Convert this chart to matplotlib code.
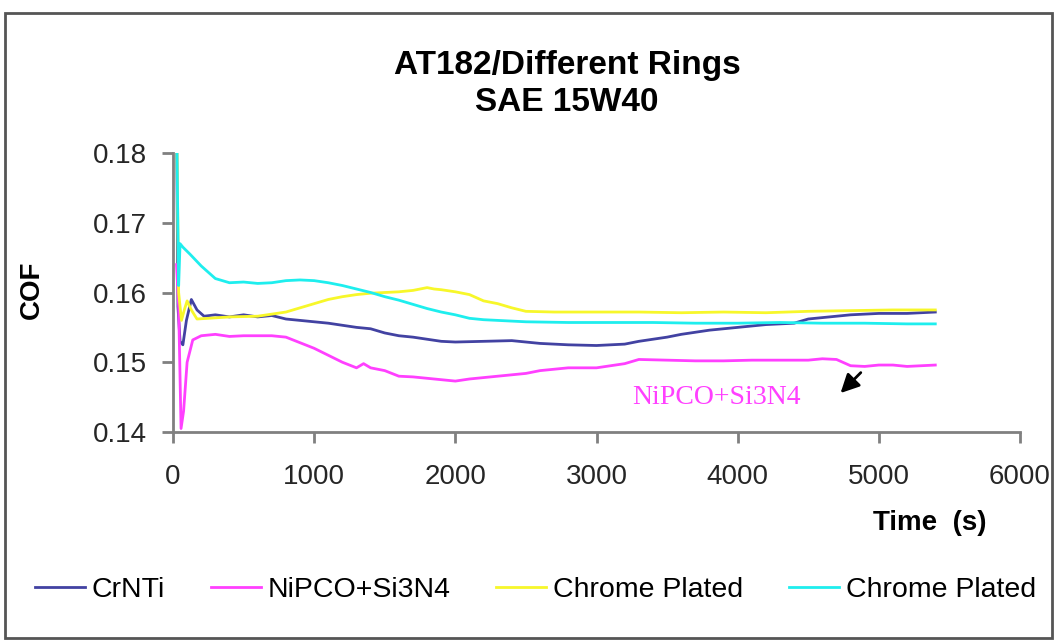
import numpy as np
import matplotlib
matplotlib.use('Agg')
import matplotlib.pyplot as plt
from matplotlib.patches import Rectangle

plt.rcParams['font.family'] = ['Liberation Sans', 'DejaVu Sans']

# CrNTi (navy)
t_crnti = [25, 35, 50, 70, 95, 130, 170, 220, 300, 400, 500, 600, 700, 800, 900,
           1000, 1100, 1200, 1300, 1400, 1500, 1600, 1700, 1800, 1900, 2000, 2200,
           2400, 2600, 2800, 3000, 3200, 3300, 3400, 3500, 3600, 3700, 3800, 3900,
           4000, 4200, 4400, 4500, 4600, 4800, 5000, 5200, 5400]
cof_crnti = [0.185, 0.158, 0.153, 0.1525, 0.156, 0.159, 0.1575, 0.1566, 0.1568, 0.1565,
             0.1568, 0.1565, 0.1567, 0.1562, 0.156, 0.1558, 0.1556, 0.1553, 0.155, 0.1548,
             0.1542, 0.1538, 0.1536, 0.1533, 0.153, 0.1529, 0.153, 0.1531, 0.1527, 0.1525,
             0.1524, 0.1526, 0.153, 0.1533, 0.1536, 0.154, 0.1543, 0.1546, 0.1548, 0.155,
             0.1554, 0.1556, 0.1562, 0.1564, 0.1568, 0.157, 0.157, 0.1572]

# NiPCO+Si3N4 (magenta)
t_nipco = [25, 40, 57, 75, 100, 140, 200, 300, 400, 500, 600, 700, 800, 900, 1000,
           1100, 1200, 1300, 1350, 1400, 1500, 1600, 1700, 1800, 1900, 2000, 2100,
           2200, 2300, 2400, 2500, 2600, 2800, 3000, 3200, 3300, 3500, 3700, 3900,
           4100, 4300, 4500, 4600, 4700, 4800, 4900, 5000, 5100, 5200, 5300, 5400]
cof_nipco = [0.164, 0.158, 0.1405, 0.143, 0.150, 0.1532, 0.1538, 0.154, 0.1537, 0.1538,
             0.1538, 0.1538, 0.1536, 0.1528, 0.152, 0.151, 0.150, 0.1492, 0.1498, 0.1492,
             0.1488, 0.148, 0.1479, 0.1477, 0.1475, 0.1473, 0.1476, 0.1478, 0.148, 0.1482,
             0.1484, 0.1488, 0.1492, 0.1492, 0.1498, 0.1504, 0.1503, 0.1502, 0.1502, 0.1503,
             0.1503, 0.1503, 0.1505, 0.1504, 0.1495, 0.1494, 0.1496, 0.1496, 0.1494, 0.1495,
             0.1496]

# Chrome Plated (yellow)
t_chrome1 = [25, 40, 60, 80, 100, 130, 170, 250, 400, 600, 800, 900, 1000, 1100, 1200,
             1300, 1400, 1500, 1600, 1700, 1800, 1850, 1900, 2000, 2100, 2200, 2300, 2400,
             2500, 2700, 3000, 3300, 3600, 3900, 4200, 4500, 4800, 5100, 5400]
cof_chrome1 = [0.185, 0.160, 0.156, 0.1575, 0.1588, 0.1575, 0.1562, 0.1563, 0.1565, 0.1566,
               0.1572, 0.1578, 0.1584, 0.159, 0.1594, 0.1597, 0.1599, 0.16, 0.1601, 0.1603,
               0.1607, 0.1605, 0.1604, 0.1601, 0.1597, 0.1588, 0.1584, 0.1578, 0.1573, 0.1572,
               0.1572, 0.1572, 0.1571, 0.1572, 0.1571, 0.1573, 0.1574, 0.1575, 0.1575]

# Chrome Plated (cyan)
t_chrome2 = [25, 40, 50, 70, 120, 200, 300, 400, 500, 600, 700, 800, 900, 1000, 1100,
             1200, 1300, 1400, 1500, 1600, 1700, 1800, 1900, 2000, 2100, 2200, 2300, 2500,
             2800, 3100, 3400, 3700, 4000, 4300, 4600, 4900, 5200, 5400]
cof_chrome2 = [0.185, 0.161, 0.167, 0.1665, 0.1655, 0.1638, 0.162, 0.1614, 0.1615, 0.1613,
               0.1614, 0.1617, 0.1618, 0.1617, 0.1614, 0.161, 0.1605, 0.16, 0.1594, 0.1589,
               0.1583, 0.1577, 0.1572, 0.1568, 0.1563, 0.1561, 0.156, 0.1558, 0.1557, 0.1557,
               0.1557, 0.1556, 0.1556, 0.1557, 0.1556, 0.1556, 0.1555, 0.1555]

labels = ['CrNTi', 'NiPCO+Si3N4', 'Chrome Plated', 'Chrome Plated']
colors = ['#4242a2', '#ff40ff', '#f7f72a', '#1eeeee']

fig = plt.figure(figsize=(10.56, 6.42), dpi=100)
ax = fig.add_axes([173/1056, 1-432/642, 847/1056, 279/642])

series = [(t_crnti, cof_crnti), (t_nipco, cof_nipco),
          (t_chrome1, cof_chrome1), (t_chrome2, cof_chrome2)]
handles = []
for (t, c), lab, col in zip(series, labels, colors):
    h, = ax.plot(t, c, color=col, lw=2.0, label=lab)
    handles.append(h)

ax.set_xlim(0, 6000)
ax.set_ylim(0.14, 0.18)
ax.set_xticks(np.arange(0, 6001, 1000))
ax.set_yticks(np.arange(0.14, 0.1801, 0.01))
ax.set_yticklabels(['0.14', '0.15', '0.16', '0.17', '0.18'])

for s in ['top', 'right']:
    ax.spines[s].set_visible(False)
for s in ['left', 'bottom']:
    ax.spines[s].set_color('#808080')
    ax.spines[s].set_linewidth(2)
ax.tick_params(axis='both', direction='out', length=8, width=2, color='#808080',
               labelsize=20, labelcolor='#262626')
ax.tick_params(axis='x', pad=15)
ax.tick_params(axis='y', pad=11)

ax.set_ylabel('COF', fontsize=20, fontweight='bold')
ax.yaxis.set_label_coords(-0.151, 0.51)
ax.set_xlabel('Time  (s)', fontsize=20, fontweight='bold')
ax.xaxis.set_label_coords(0.894, -0.28)

fig.text(567/1056, 1-84/642, 'AT182/Different Rings\nSAE 15W40', ha='center', va='center',
         fontsize=24, fontweight='bold', linespacing=1.27)

ax.text(3850, 0.1449, 'NiPCO+Si3N4', color='#ff40ff', fontsize=20,
        family='Liberation Serif', ha='center', va='center')
ax.annotate('', xy=(4715, 0.1453), xytext=(4886, 0.1488),
            arrowprops=dict(arrowstyle='-|>', color='black', lw=2, mutation_scale=28))

fig.legend(handles, labels, loc='center left', bbox_to_anchor=(35/1056, 1-590/642),
           ncol=4, frameon=False, fontsize=20.5, handlelength=1.75, handletextpad=0.25,
           columnspacing=1.6, borderpad=0, borderaxespad=0)

fig.add_artist(Rectangle((5/1056, 1-638/642), 1047/1056, 625/642, transform=fig.transFigure,
                         fill=False, edgecolor='#555555', lw=2))

fig.savefig('out.png', dpi=100)
